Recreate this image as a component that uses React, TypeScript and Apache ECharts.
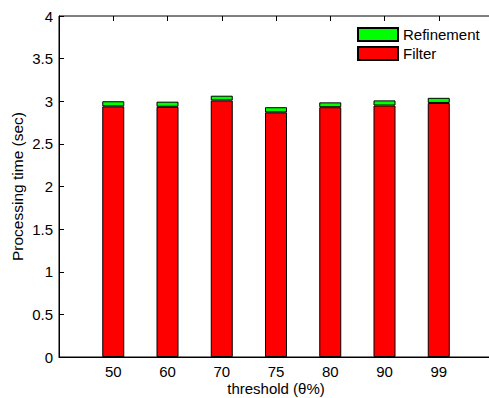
import React, { useEffect, useRef } from "react";
import * as echarts from "echarts";

const categories = ["50", "60", "70", "75", "80", "90", "99"];
const filterValues = [2.94, 2.935, 3.01, 2.87, 2.93, 2.95, 2.98];
const refinementValues = [0.06, 0.06, 0.055, 0.06, 0.057, 0.06, 0.06];
const yTicks = [0, 0.5, 1, 1.5, 2, 2.5, 3, 3.5, 4];

const FONT = "'Liberation Sans', Arial, Helvetica, sans-serif";

export default function App() {
  const ref = useRef<HTMLDivElement>(null);
  useEffect(() => {
    if (!ref.current) return;
    const chart = echarts.init(ref.current, undefined, { renderer: "svg" });
    // padded axis: empty slot at each end so that the range runs 0..8 with bars at 1..7
    const axisCats = ["", ...categories, ""];
    const pad = (arr: number[]) => ["-", ...arr, "-"];
    chart.setOption({
      animation: false,
      backgroundColor: "#ffffff",
      textStyle: { fontFamily: FONT, color: "#000" },
      grid: {
        left: 59,
        top: 16,
        right: -4,
        bottom: 41,
        outerBoundsMode: "none",
        containLabel: false,
        show: true,
        borderColor: "#000",
        borderWidth: 1,
        backgroundColor: "transparent",
      },
      legend: {
        data: ["Refinement", "Filter"],
        orient: "vertical",
        left: 357,
        top: 27,
        itemWidth: 40,
        itemHeight: 13,
        itemGap: 4,
        icon: "rect",
        padding: 0,
        textStyle: { fontSize: 15, color: "#000", fontFamily: FONT },
      },
      xAxis: [
        {
          type: "category",
          data: axisCats,
          boundaryGap: false,
          position: "bottom",
          name: "threshold (θ%)",
          nameLocation: "middle",
          nameGap: 23,
          nameMoveOverlap: false,
          nameTextStyle: { fontSize: 15, color: "#000", fontFamily: FONT, lineHeight: 16 },
          axisLine: { show: true, lineStyle: { color: "#000", width: 1 } },
          axisTick: { show: true, inside: true, length: 5, alignWithLabel: true, lineStyle: { color: "#000" } },
          axisLabel: { interval: 0, fontSize: 15, color: "#000", fontFamily: FONT, margin: 7 },
          splitLine: { show: false },
        },
        {
          type: "category",
          data: axisCats,
          boundaryGap: false,
          position: "top",
          axisLine: { show: false },
          axisTick: { show: true, inside: true, length: 5, interval: 0, lineStyle: { color: "#000" } },
          axisLabel: { show: false },
          splitLine: { show: false },
        },
      ],
      yAxis: [
        {
          type: "value",
          min: 0,
          max: 4,
          interval: 0.5,
          name: "Processing time (sec)",
          nameLocation: "middle",
          nameGap: 34,
          nameMoveOverlap: false,
          nameTextStyle: { fontSize: 15.5, color: "#000", fontFamily: FONT },
          axisLine: { show: true, lineStyle: { color: "#000", width: 1 } },
          axisTick: { show: true, inside: true, length: 5, lineStyle: { color: "#000" } },
          axisLabel: {
            formatter: (v: number) => (yTicks.includes(v) ? String(v) : ""),
            fontSize: 15,
            color: "#000",
            fontFamily: FONT,
            margin: 6,
          },
          splitLine: { show: false },
        },
      ],
      series: [
        {
          name: "Filter",
          type: "bar",
          stack: "total",
          barWidth: 22,
          data: pad(filterValues),
          itemStyle: { color: "#ff0000", borderColor: "#000", borderWidth: 1 },
        },
        {
          name: "Refinement",
          type: "bar",
          stack: "total",
          barWidth: 22,
          data: pad(refinementValues),
          itemStyle: { color: "#00ff00", borderColor: "#000", borderWidth: 1 },
        },
      ],
    });
    return () => chart.dispose();
  }, []);
  return (
    <div
      ref={ref}
      style={{ position: "fixed", left: 0, top: 0, width: 489, height: 398, background: "#fff" }}
    />
  );
}
